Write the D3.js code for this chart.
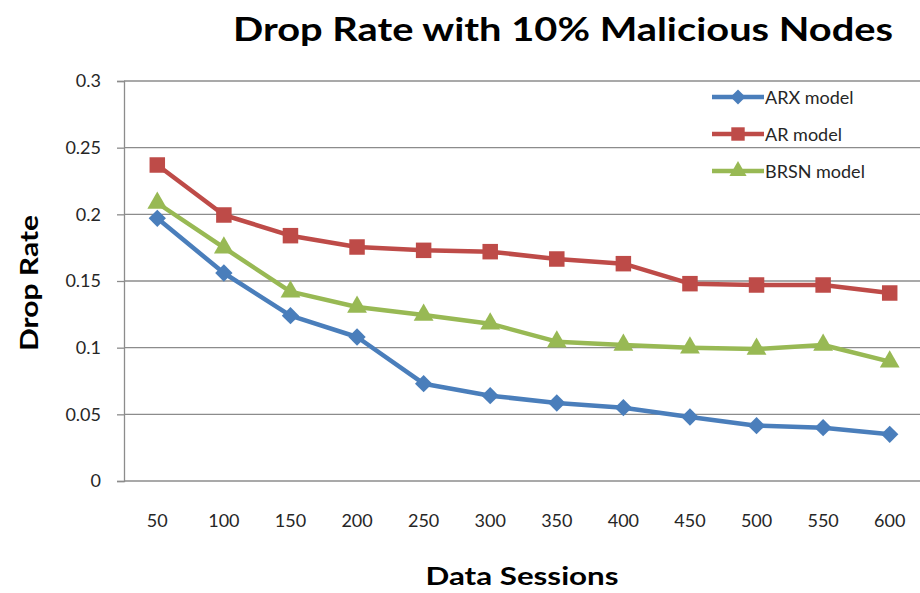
<!DOCTYPE html>
<html>
<head>
<meta charset="utf-8">
<script src="https://cdn.jsdelivr.net/npm/d3@7"></script>
<style>
  body { margin: 0; background: #fff; }
  text { font-family: Lato, "Open Sans", sans-serif; }
</style>
</head>
<body>
<div id="chart"></div>
<script>
// data
const sessions = ["50", "100", "150", "200", "250", "300", "350", "400", "450", "500", "550", "600"];
const arx  = [0.197, 0.156, 0.124, 0.108, 0.073, 0.064, 0.0585, 0.055, 0.048, 0.0415, 0.040, 0.035];
const ar   = [0.237, 0.1995, 0.184, 0.1755, 0.173, 0.172, 0.1665, 0.163, 0.148, 0.147, 0.147, 0.141];
const brsn = [0.2085, 0.175, 0.142, 0.1305, 0.1245, 0.118, 0.1045, 0.102, 0.100, 0.099, 0.102, 0.0895];
const yTicks = [0, 0.05, 0.1, 0.15, 0.2, 0.25, 0.3];

// diamond = square turned 45 degrees
const series = [
  {name: "ARX model",  values: arx,  color: "#4a7ebb", symbol: d3.symbolSquare,   size: 150, rot: 45},
  {name: "AR model",   values: ar,   color: "#be4b48", symbol: d3.symbolSquare,   size: 240, rot: 0},
  {name: "BRSN model", values: brsn, color: "#98b954", symbol: d3.symbolTriangle, size: 170, rot: 0}
];

const width = 920, height = 593;
const margin = {top: 81, right: -3, bottom: 112, left: 124};
const plotW = width - margin.left - margin.right,
      plotH = height - margin.top - margin.bottom;

const svg = d3.select("#chart")
  .append("svg")
  .attr("width", width)
  .attr("height", height);

const g = svg.append("g")
  .attr("transform", `translate(${margin.left}, ${margin.top})`);

const x = d3.scaleBand()
  .domain(sessions)
  .range([0, plotW]);

const y = d3.scaleLinear()
  .domain([0, 0.3])
  .range([plotH, 0]);

// gridlines
g.append("g")
  .selectAll("line")
  .data(yTicks)
  .join("line")
  .attr("x1", 0)
  .attr("x2", plotW)
  .attr("y1", d => y(d))
  .attr("y2", d => y(d))
  .attr("stroke", "#8c8c8c")
  .attr("stroke-width", 1.3);

// Y axis
const yAxis = g.append("g")
  .call(d3.axisLeft(y).tickValues(yTicks).tickSize(7).tickPadding(16)
    .tickFormat(d => d === 0 ? "0" : String(+d.toFixed(2))));
yAxis.select(".domain").attr("stroke", "#8c8c8c").attr("stroke-width", 1.3);
yAxis.selectAll(".tick line").attr("stroke", "#8c8c8c").attr("stroke-width", 1.3);
yAxis.selectAll(".tick text")
  .attr("font-size", 18)
  .attr("fill", "#262626")
  .style("font-family", "Lato, sans-serif");

// X axis
const xAxis = g.append("g")
  .attr("transform", `translate(0, ${plotH})`)
  .call(d3.axisBottom(x).tickSize(0).tickPadding(33));
xAxis.select(".domain").remove();
xAxis.selectAll(".tick text")
  .attr("font-size", 18)
  .attr("fill", "#262626")
  .style("font-family", "Lato, sans-serif");

// lines and markers
const cx = (d, i) => x(sessions[i]) + x.bandwidth() / 2;

series.forEach(s => {
  g.append("path")
    .datum(s.values)
    .attr("fill", "none")
    .attr("stroke", s.color)
    .attr("stroke-width", 4.5)
    .attr("stroke-linejoin", "round")
    .attr("d", d3.line()
      .x(cx)
      .y(d => y(d)));

  g.append("g")
    .selectAll("path")
    .data(s.values)
    .join("path")
    .attr("transform", (d, i) => `translate(${cx(d, i)}, ${y(d)}) rotate(${s.rot})`)
    .attr("d", d3.symbol().type(s.symbol).size(s.size))
    .attr("fill", s.color);
});

// legend
const legend = svg.append("g")
  .attr("transform", "translate(712, 97)");
series.forEach((s, i) => {
  const row = legend.append("g").attr("transform", `translate(0, ${i * 37})`);
  row.append("line")
    .attr("x1", 0).attr("x2", 52)
    .attr("stroke", s.color).attr("stroke-width", 4.5);
  row.append("path")
    .attr("transform", `translate(26, 0) rotate(${s.rot})`)
    .attr("d", d3.symbol().type(s.symbol).size(s.size * 0.75))
    .attr("fill", s.color);
  row.append("text")
    .attr("x", 53)
    .attr("y", 6.5)
    .attr("font-size", 18)
    .attr("fill", "#262626")
    .text(s.name);
});

// titles
svg.append("text")
  .attr("x", 563)
  .attr("y", 41)
  .attr("text-anchor", "middle")
  .attr("font-size", 33)
  .attr("font-weight", "bold")
  .attr("fill", "#000")
  .attr("textLength", 660)
  .attr("lengthAdjust", "spacingAndGlyphs")
  .text("Drop Rate with 10% Malicious Nodes");

svg.append("text")
  .attr("x", 522)
  .attr("y", 585)
  .attr("text-anchor", "middle")
  .attr("font-size", 25)
  .attr("font-weight", "bold")
  .attr("fill", "#000")
  .attr("textLength", 193)
  .attr("lengthAdjust", "spacingAndGlyphs")
  .text("Data Sessions");

svg.append("text")
  .attr("transform", "translate(38, 283) rotate(-90)")
  .attr("text-anchor", "middle")
  .attr("font-size", 25)
  .attr("font-weight", "bold")
  .attr("fill", "#000")
  .attr("textLength", 136)
  .attr("lengthAdjust", "spacingAndGlyphs")
  .text("Drop Rate");
</script>
</body>
</html>
